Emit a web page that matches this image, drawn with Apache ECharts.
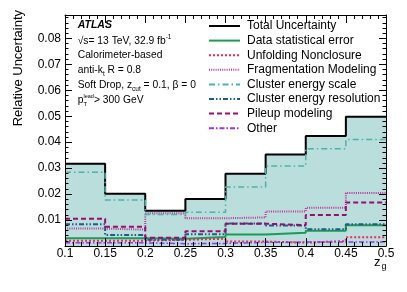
<!DOCTYPE html>
<html><head><meta charset="utf-8">
<script src="https://cdn.jsdelivr.net/npm/echarts@6/dist/echarts.min.js"></script>
<style>html,body{margin:0;padding:0;background:#fff}#c{width:407px;height:292px}</style>
</head><body><div id="c"></div>
<script>
// Bin edges of z_g
const binEdges = [0.1, 0.15, 0.2, 0.25, 0.3, 0.35, 0.4, 0.45, 0.5];
// Relative uncertainties per bin
const totalUnc      = [0.0317, 0.0201, 0.0136, 0.0181, 0.0278, 0.0353, 0.0424, 0.0498];
const dataStat      = [0.0030, 0.0030, 0.0028, 0.0035, 0.0044, 0.0051, 0.0059, 0.0080];
const unfolding     = [0.0020, 0.0020, 0.0024, 0.0028, 0.0017, 0.0013, 0.0019, 0.0034];
const fragmentation = [0.0067, 0.0063, 0.0126, 0.0107, 0.0110, 0.0133, 0.0147, 0.0204];
const clusterScale  = [0.0284, 0.0177, 0.0121, 0.0130, 0.0227, 0.0308, 0.0375, 0.0410];
const clusterRes    = [0.0084, 0.0042, 0.0024, 0.0045, 0.0087, 0.0079, 0.0065, 0.0084];
const pileup        = [0.0105, 0.0074, 0.0032, 0.0057, 0.0086, 0.0080, 0.0119, 0.0168];
const other         = [0.0013, 0.0012, 0.0009, 0.0010, 0.0014, 0.0015, 0.0015, 0.0016];
const legendNames = ['Total Uncertainty','Data statistical error','Unfolding Nonclosure','Fragmentation Modeling','Cluster energy scale','Cluster energy resolution','Pileup modeling','Other'];

function steps(vals){
  const d = vals.map((v,i)=>[binEdges[i], v]);
  d.push([binEdges[binEdges.length-1], vals[vals.length-1]]);
  return d;
}
const FONT = '"Liberation Sans", Arial, Helvetica, sans-serif';
const chart = echarts.init(document.getElementById('c'), null, {renderer:'canvas'});

function mkLine(name, vals, color, type, width, z){
  return {name, type:'line', step:'end', data:steps(vals), symbol:'none', showSymbol:false,
    xAxisIndex:0, yAxisIndex:0, animation:false, z:z||3,
    lineStyle:{color, type, width}, itemStyle:{color}};
}
const axisCommon = {
  axisLine:{show:true, onZero:false, lineStyle:{color:'#000', width:1}},
  axisTick:{show:true, inside:true, lineStyle:{color:'#000'}},
  minorTick:{show:true, splitNumber:5, lineStyle:{color:'#000'}},
  splitLine:{show:false}, z:10
};
const xBase = Object.assign({type:'value', min:0.1, max:0.5, interval:0.05}, axisCommon);
const yBase = Object.assign({type:'value', min:0, max:0.089, interval:0.01}, axisCommon);

const t = (x,y,text,extra)=>({type:'text', x, y, z:20,
  style:Object.assign({text, fill:'#000', font:'10.3px '+FONT, textVerticalAlign:'middle'}, extra||{})});
const rich = {
  n:{fontSize:10.3, fontFamily:FONT, lineHeight:14, verticalAlign:'middle'},
  sub:{fontSize:6.5, fontFamily:FONT, lineHeight:8, verticalAlign:'bottom'},
  sup:{fontSize:6.5, fontFamily:FONT, lineHeight:8, verticalAlign:'top'}
};
const rt = (x,y,text)=>({type:'text', x, y, z:20,
  style:{text, rich, fill:'#000', font:'10.3px '+FONT, textVerticalAlign:'middle'}});

const option = {
  backgroundColor:'#fff',
  animation:false,
  grid:{left:65, right:21, top:15, bottom:46, containLabel:false},
  xAxis:[
    Object.assign({}, xBase, {position:'bottom',
      axisTick:{show:true, inside:true, length:8, lineStyle:{color:'#000'}},
      minorTick:{show:true, splitNumber:5, length:4, lineStyle:{color:'#000'}},
      axisLabel:{show:true, margin:2, color:'#000', fontSize:12, fontFamily:FONT,
        formatter:v=>String(Math.round(v*100)/100)}}),
    Object.assign({}, xBase, {position:'top',
      axisTick:{show:true, inside:true, length:8, lineStyle:{color:'#000'}},
      minorTick:{show:true, splitNumber:5, length:4, lineStyle:{color:'#000'}},
      axisLabel:{show:false}})
  ],
  yAxis:[
    Object.assign({}, yBase, {position:'left',
      axisTick:{show:true, inside:true, length:7, lineStyle:{color:'#000'}},
      minorTick:{show:true, splitNumber:5, length:3.5, lineStyle:{color:'#000'}},
      axisLabel:{show:true, margin:4, color:'#000', fontSize:12, fontFamily:FONT,
        showMinLabel:false, showMaxLabel:false, formatter:v=>v.toFixed(2)}}),
    Object.assign({}, yBase, {position:'right',
      axisTick:{show:true, inside:true, length:7, lineStyle:{color:'#000'}},
      minorTick:{show:true, splitNumber:5, length:3.5, lineStyle:{color:'#000'}},
      axisLabel:{show:false}})
  ],
  legend:{
    data:legendNames, orient:'vertical', left:203, top:15, itemWidth:31, itemHeight:12, itemGap:2.6,
    selectedMode:false,
    itemStyle:{opacity:0},
    textStyle:{color:'#000', fontSize:12, fontFamily:FONT, lineHeight:12, padding:[0,0,0,2]}
  },
  series:[
    Object.assign(mkLine('Total Uncertainty', totalUnc, '#000', 'solid', 2, 2),
      {areaStyle:{color:'#b9dedb', opacity:1}}),
    mkLine('Data statistical error', dataStat, '#1e9a57', 'solid', 2),
    mkLine('Unfolding Nonclosure', unfolding, '#f2285a', [2,2], 2),
    mkLine('Fragmentation Modeling', fragmentation, '#c2379b', [1,1.2], 2),
    mkLine('Cluster energy scale', clusterScale, '#4db2a9', [6,3,1.5,3], 1.5),
    mkLine('Cluster energy resolution', clusterRes, '#1d5d87', [5,2,1.5,2,1.5,2], 2),
    mkLine('Pileup modeling', pileup, '#9c0c6f', [5,3], 2),
    mkLine('Other', other, '#9a34e6', [5,2,1.5,2], 1.5)
  ],
  graphic:[
    t(77.7, 25, 'ATLAS', {font:'italic bold 10.5px '+FONT}),
    rt(77.7, 41, '{n|√s= 13 TeV, 32.9 fb}{sup|-1}'),
    t(77.7, 55.5, 'Calorimeter-based'),
    rt(77.7, 70.5, '{n|anti-k}{sub|t}{n| R = 0.8}'),
    rt(77.7, 85.5, '{n|Soft Drop, z}{sub|cut}{n| = 0.1, β = 0}'),
    t(77.7, 100, 'p'),
    t(83.5, 96, 'lead', {font:'5.5px '+FONT}),
    t(83.5, 104.5, 'T', {font:'6px '+FONT}),
    t(94, 100, '> 300 GeV'),
    {type:'text', x:18, y:10, rotation:Math.PI/2, z:20,
      style:{text:'Relative Uncertainty', fill:'#000', font:'13px '+FONT, textAlign:'right', textVerticalAlign:'middle'}},
    t(374, 262, 'z', {font:'13px '+FONT}),
    t(381.5, 267, 'g', {font:'9px '+FONT})
  ]
};
chart.setOption(option);
</script></body></html>
